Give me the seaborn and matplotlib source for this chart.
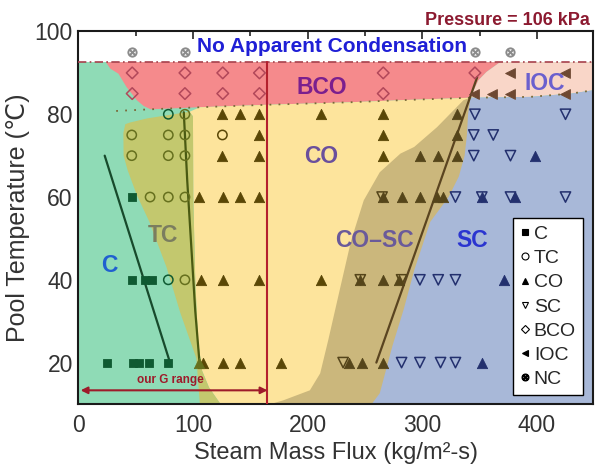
import pandas as pd
import seaborn as sns
import matplotlib.pyplot as plt
from matplotlib.path import Path
from matplotlib.patches import Polygon
from matplotlib.lines import Line2D
from matplotlib.ticker import MultipleLocator

# measured points: steam mass flux G (kg/m2-s), pool temperature T (C)
c_G = [46.6, 58, 64, 46.6, 25, 47.5, 52.5, 62, 78]
c_T = [60, 40, 40, 40, 20, 20, 20, 20, 20]

tc_G = [78.5, 93, 46.6, 78.5, 93, 125.7, 46.6, 78.5, 93, 62.6, 78.5, 93, 78.5, 93]
tc_T = [80, 80, 75, 75, 75, 75, 70, 70, 70, 60, 60, 60, 40, 40]

co_G = [125.7, 141, 157.7, 212, 266, 330,
        157.7, 266, 330,
        125.7, 157.7, 266, 298, 314, 330, 398.5,
        105, 126, 141, 157.7, 266, 282, 298, 313, 318.5, 352, 381,
        107, 126, 157.7, 212, 246, 266, 280, 371,
        105, 109, 126, 141, 177, 236, 247.5, 266, 352]
co_T = [80] * 6 + [75] * 3 + [70] * 7 + [60] * 11 + [40] * 8 + [20] * 9

sc_G = [346, 425, 345, 362, 345, 377,
        265, 329, 352, 377, 425,
        246, 282, 298, 314, 329,
        231, 282, 298, 316, 329]
sc_T = [80, 80, 75, 75, 70, 70] + [60] * 5 + [40] * 5 + [20] * 5

bco_G = [47, 93, 126, 158, 266, 346, 47, 93, 126, 158, 266]
bco_T = [90] * 6 + [85] * 5

ioc_G = [377, 425, 345, 361, 377, 425]
ioc_T = [90, 90, 85, 85, 85, 85]

nc_G = [47, 93, 346, 377]
nc_T = [95, 95, 95, 95]

# regime boundaries (G, T)
c_zone = [(0, 10), (449, 10), (449, 92.6), (0, 92.6)]
bco_zone = [(24, 92.6), (28, 91), (35, 89.8), (42, 86.6), (51, 83.4), (57, 82), (63, 81.2),
            (106, 81.7), (165, 82.3), (237, 82.9), (281, 83.4), (342, 84), (349, 88.2),
            (356, 90.2), (368, 92.6)]
ioc_zone = [(342, 84), (349, 88.2), (356, 90.2), (368, 92.6), (449, 92.6), (449, 85.8),
            (430, 85), (394, 84.2)]
co_zone = [(97, 80.6), (106, 81.7), (165, 82.3), (237, 82.9), (281, 83.4), (342, 84),
           (342, 10), (124, 10), (114, 14), (108, 18), (104.5, 25), (102, 40), (100.3, 60),
           (100, 79.5)]
tc_zone = [(97, 80.6), (100, 79.5), (100.3, 60), (102, 40), (104.5, 25), (108, 18), (114, 14),
           (124, 10), (106, 10), (103, 21), (89, 32), (77, 43), (62, 54), (51, 60.5), (43, 66.5),
           (39.5, 70), (39.3, 75.5), (41, 77.6), (45, 78), (60, 79)]
cosc_zone = [(168, 10), (179, 10.9), (202, 13.3), (211, 17.4), (218, 25.4), (228, 37.5),
             (238, 49.5), (249, 59.2), (263, 66), (281, 70.5), (293, 72.1), (313, 76.9),
             (336, 83.4), (342, 84), (345, 84), (345, 10)]
sc_zone = [(256, 10), (263, 12.6), (274, 24), (284, 33), (293, 42.3), (307, 54), (323, 60),
           (332, 65), (337, 70), (339, 75), (340, 80), (342, 84), (394, 84.2), (430, 85),
           (449, 85.8), (449, 10)]

# trend lines and boundary lines
c_line_G, c_line_T = [23, 80], [70, 20]
tc_line_G, tc_line_T = [92, 95, 102, 106], [80.5, 64, 32.5, 19]
cosc_line_G, cosc_line_T = [260, 348], [20, 89]
lower_dots_G = [33, 63, 106, 165, 237, 281, 342, 394, 430, 449]
lower_dots_T = [80.8, 81.2, 81.7, 82.3, 82.9, 83.4, 84, 84.2, 85, 85.8]
nc_limit = 92.6
g_range = 165

regions = [
    (c_zone, "#8fdbb6", "#0f5a32"),
    (bco_zone, "#f58a8c", "#b2485a"),
    (ioc_zone, "#f9d6c8", "#6e4832"),
    (co_zone, "#fde49c", "#5a4706"),
    (tc_zone, "#c3c86e", "#66701e"),
    (cosc_zone, "#cbb77c", "#55451a"),
    (sc_zone, "#a8b8d8", "#23306e"),
]

sns.set_theme(style="ticks")
plt.rcParams['font.family'] = ['Liberation Sans', 'DejaVu Sans']

fig = plt.figure(figsize=(5.97, 4.68), dpi=100)
ax = fig.add_axes([0.1312, 0.1368, 0.8621, 0.7959])
ax.set_facecolor("white")

for verts, fill, dark in regions:
    ax.add_patch(Polygon(verts, closed=True, facecolor=fill, edgecolor="none", zorder=1))


def tint(g, t):
    for verts, fill, dark in reversed(regions):
        if Path(verts).contains_point((g, t)):
            return dark
    return "#8a8a8a"


def draw(g, t, marker, size, filled):
    df = pd.DataFrame({"G": g, "T": t})
    df["tint"] = [tint(a, b) for a, b in zip(g, t)]
    for col, sub in df.groupby("tint"):
        if filled:
            sns.scatterplot(data=sub, x="G", y="T", marker=marker, s=size, color=col,
                            edgecolor=col, linewidth=0.6, ax=ax, zorder=5, legend=False)
        else:
            sns.scatterplot(data=sub, x="G", y="T", marker=marker, s=size, color=col,
                            facecolor="none", edgecolor=col, linewidth=1.1, ax=ax,
                            zorder=5, legend=False)


# lines
ax.plot([0, 449], [nc_limit, nc_limit], color="#a8404c", lw=1.2,
        linestyle=(0, (5, 2, 1, 2)), zorder=3)
ax.plot(lower_dots_G, lower_dots_T, color="#7a6a3a", lw=1.3, linestyle=(0, (1, 4)), zorder=3)
ax.plot(c_line_G, c_line_T, color="#174a2c", lw=1.6, zorder=3)
ax.plot(tc_line_G, tc_line_T, color="#4a5a12", lw=1.6, zorder=3)
ax.plot(cosc_line_G, cosc_line_T, color="#5a4420", lw=1.6, zorder=3)
ax.plot([g_range, g_range], [10, nc_limit], color="#b4202e", lw=1.5, zorder=3)

draw(c_G, c_T, "s", 28, True)
draw(tc_G, tc_T, "o", 45, False)
draw(co_G, co_T, "^", 55, True)
draw(sc_G, sc_T, "v", 55, False)
draw(bco_G, bco_T, "D", 35, False)
draw(ioc_G, ioc_T, "<", 50, True)
draw(nc_G, nc_T, r"$\otimes$", 45, True)

ax.annotate("", xy=(2, 13.3), xytext=(g_range, 13.3),
            arrowprops=dict(arrowstyle="<|-|>", color="#9e1b2a", lw=1.5,
                            shrinkA=0, shrinkB=0, mutation_scale=10), zorder=6)
ax.text(80.7, 15.7, "our G range", color="#9e1b2a", fontsize=8.5, fontweight="bold",
        ha="center", va="center", zorder=6)

ax.text(221, 96.4, "No Apparent Condensation", color="#1f1fd6", fontsize=15,
        fontweight="bold", ha="center", va="center", zorder=6)
labels = [("BCO", 212.6, 86.5, "#7b1f8e"), ("IOC", 407, 87.5, "#6b5fce"),
          ("CO", 212, 69.7, "#6a4f9c"), ("CO\u2013SC", 258, 49.5, "#6a5a9a"),
          ("SC", 343.3, 49.5, "#2b35d0"), ("TC", 74.2, 50.7, "#7b7d5f"),
          ("C", 27, 43.5, "#2060d0")]
for s, x, y, col in labels:
    ax.text(x, y, s, color=col, fontsize=16.5, fontweight="bold", ha="center",
            va="center", zorder=6)

fig.text(0.988, 0.957, "Pressure = 106 kPa", color="#8c1a30", fontsize=13,
         fontweight="bold", ha="right", va="center")

ax.set_xlim(0, 449)
ax.set_ylim(10, 100)
ax.xaxis.set_major_locator(MultipleLocator(100))
ax.xaxis.set_minor_locator(MultipleLocator(50))
ax.yaxis.set_major_locator(MultipleLocator(20))
ax.yaxis.set_minor_locator(MultipleLocator(10))
ax.tick_params(which="both", direction="in", top=True, right=True, width=1.2,
               color="#222222", labelcolor="#333333", labelsize=16.5)
ax.tick_params(which="major", length=6, pad=7)
ax.tick_params(which="minor", length=3.5)
ax.tick_params(axis="y", which="major", pad=4)
for sp in ax.spines.values():
    sp.set_linewidth(1.5)
    sp.set_color("#1a1a1a")

ax.set_xlabel("Steam Mass Flux (kg/m\u00b2-s)", fontsize=17, color="#333333", labelpad=4)
ax.set_ylabel("Pool Temperature (\u2103)", fontsize=18, color="#333333", labelpad=3)

legend_items = [("C", "s", True), ("TC", "o", False), ("CO", "^", True), ("SC", "v", False),
                ("BCO", "D", False), ("IOC", "<", True), ("NC", r"$\otimes$", True)]
handles = [Line2D([], [], linestyle="none", marker=m, markersize=5 if m != "D" else 4,
                  markerfacecolor="black" if f else "none", markeredgecolor="black",
                  markeredgewidth=0.8, label=lab) for lab, m, f in legend_items]
leg = ax.legend(handles=handles, loc="lower right", bbox_to_anchor=(0.98, 0.024),
                fontsize=14, frameon=True, fancybox=False, edgecolor="black", framealpha=1,
                handlelength=0.5, handletextpad=0.2, labelspacing=0.34, borderpad=0.35,
                borderaxespad=0)
leg.get_frame().set_linewidth(1.0)
leg.set_zorder(10)

fig.savefig("out.png", dpi=100)
